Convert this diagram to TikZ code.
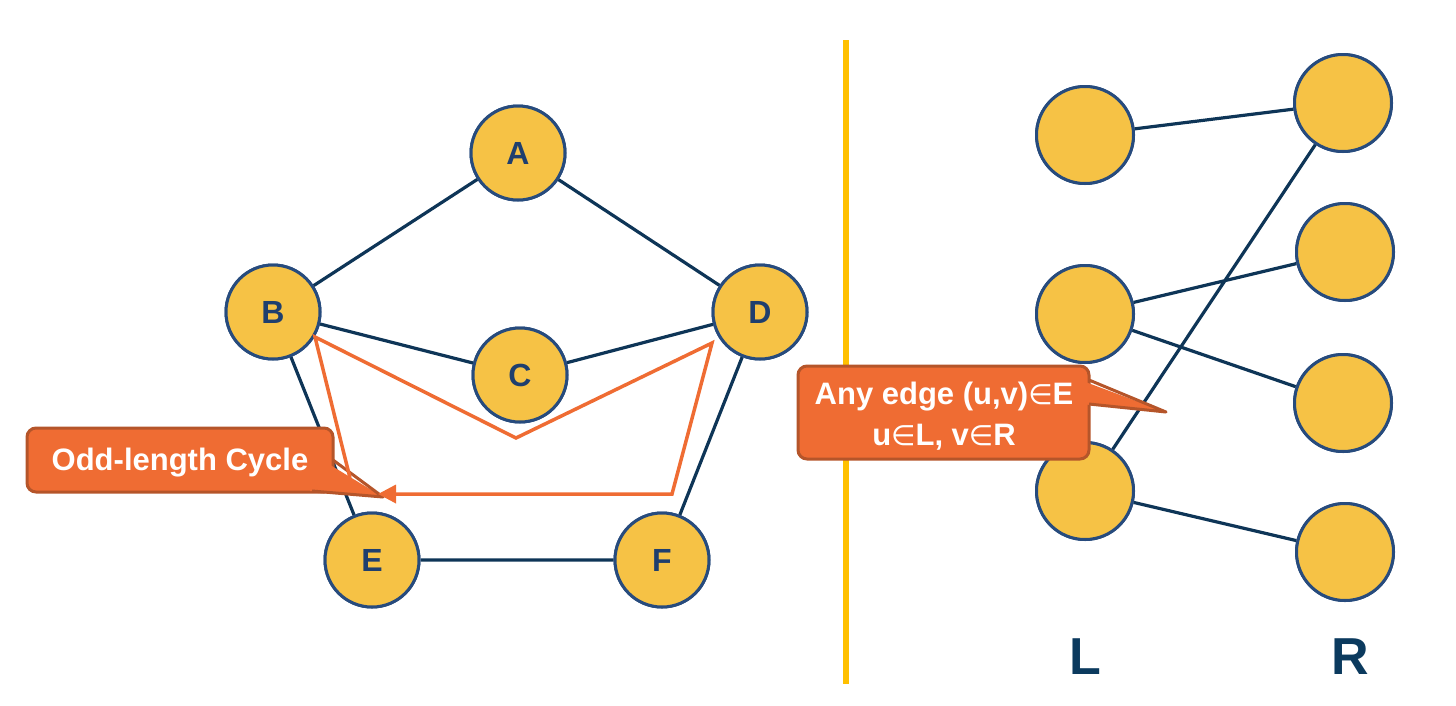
\documentclass[tikz,border=0pt]{standalone}
\usepackage{fontspec}
\setmainfont{Liberation Sans}
\newfontfamily\symfont{DejaVu Sans}
\usetikzlibrary{arrows.meta}
\definecolor{nodefill}{HTML}{F6C245}
\definecolor{nodeborder}{HTML}{274B7D}
\definecolor{edgecol}{HTML}{0E3557}
\definecolor{lettercol}{HTML}{1F3F6E}
\definecolor{calloutfill}{HTML}{EF6C33}
\definecolor{calloutborder}{HTML}{B5552A}
\definecolor{dividercol}{HTML}{FFC000}
\definecolor{lrcol}{HTML}{0B3A5E}
\tikzset{
  vtx/.style={circle, draw=nodeborder, fill=nodefill, line width=3pt, minimum size=94pt, inner sep=0pt,
    font=\fontsize{32}{36}\selectfont\bfseries, text=lettercol},
  rvtx/.style={vtx, minimum size=97pt},
  edg/.style={draw=edgecol, line width=3.2pt},
  cyc/.style={draw=calloutfill, line width=3.5pt},
  callout/.style={draw=calloutborder, fill=calloutfill, line width=3pt, rounded corners=9pt},
  ctext/.style={text=white, font=\fontsize{31}{41}\selectfont\bfseries, align=center},
  side/.style={text=lrcol, font=\fontsize{52}{56}\selectfont\bfseries}
}
\newcommand{\elem}{{\symfont\mdseries\fontsize{28}{41}\selectfont ∈}}
\begin{document}
\begin{tikzpicture}[x=1pt,y=-1pt]
\useasboundingbox (0,0) rectangle (1456,705);
% divider
\coordinate (dtop) at (846,40);
\coordinate (dbot) at (846,684);
\draw[dividercol, line width=6pt] (dtop) -- (dbot);
% left graph nodes (placed first for names)
\node[vtx] (A) at (518,153) {A};
\node[vtx] (B) at (273,312) {B};
\node[vtx] (C) at (520,375) {C};
\node[vtx] (D) at (760,312) {D};
\node[vtx] (E) at (372,560) {E};
\node[vtx] (F) at (662,560) {F};
% right graph nodes
\node[rvtx] (L1) at (1085,135) {};
\node[rvtx] (L2) at (1085,314) {};
\node[rvtx] (L3) at (1085,491) {};
\node[rvtx] (R1) at (1343,103) {};
\node[rvtx] (R2) at (1345,252) {};
\node[rvtx] (R3) at (1343,403) {};
\node[rvtx] (R4) at (1345,552) {};
% edges
\path[edg] (A) -- (B) (A) -- (D) (B) -- (C) (C) -- (D) (B) -- (E) (D) -- (F) (E) -- (F);
\path[edg] (L1) -- (R1) (L2) -- (R2) (L2) -- (R3) (L3) -- (R1) (L3) -- (R4);
% nodes on top of edges
\node[vtx] at (A) {A};
\node[vtx] at (B) {B};
\node[vtx] at (C) {C};
\node[vtx] at (D) {D};
\node[vtx] at (E) {E};
\node[vtx] at (F) {F};
\foreach \n in {L1,L2,L3,R1,R2,R3,R4} { \node[rvtx] at (\n) {}; }
% callout 1
\coordinate (t1) at (383,497);
\draw[callout] (27,428) rectangle (333,492);
\fill[calloutfill] (322,460) -- (t1) -- (310,491) -- cycle;
\draw[calloutborder, line width=3pt, line join=round] (333,460) -- (t1) -- (312,491);
\node[ctext] (c1) at (180,463) {Odd-length Cycle};
% callout 2
\coordinate (t2) at (1166,412);
\draw[callout] (798,366) rectangle (1089,459);
\fill[calloutfill] (1080,380) -- (t2) -- (1080,404) -- cycle;
\draw[calloutborder, line width=3pt, line join=round] (1089,380) -- (t2) -- (1089,404);
\node[ctext] (c2) at (944,416) {Any edge (u,v)\elem E\\u\elem L, v\elem R};
% odd cycle path
\coordinate (p0) at (350,478);
\coordinate (p1) at (315,337);
\coordinate (p2) at (516,438);
\coordinate (p3) at (712,343);
\coordinate (p4) at (672,494);
\coordinate (p5) at (378,494);
\draw[cyc, line join=miter, -{Triangle[length=18pt,width=18pt]}] (p0) -- (p1) -- (p2) -- (p3) -- (p4) -- (p5);
% side labels
\node[side] (Llab) at (1085,657) {L};
\node[side] (Rlab) at (1350,657) {R};
\end{tikzpicture}
\end{document}
